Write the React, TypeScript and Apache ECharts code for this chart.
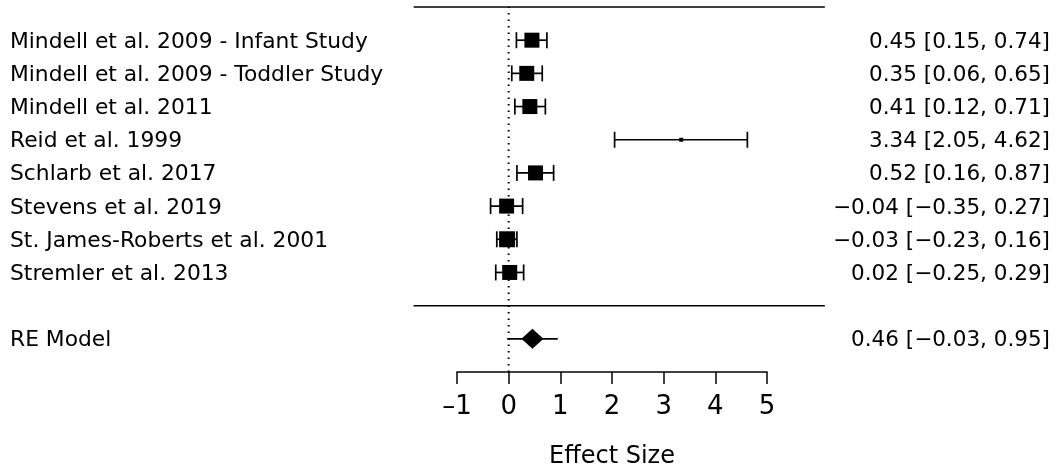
import React, { useEffect, useRef } from "react";
import * as echarts from "echarts";

// ---- data ----
const studies = [
  "Mindell et al. 2009 - Infant Study",
  "Mindell et al. 2009 - Toddler Study",
  "Mindell et al. 2011",
  "Reid et al. 1999",
  "Schlarb et al. 2017",
  "Stevens et al. 2019",
  "St. James-Roberts et al. 2001",
  "Stremler et al. 2013",
];
const estimates = [0.45, 0.35, 0.41, 3.34, 0.52, -0.04, -0.03, 0.02];
const lowers = [0.15, 0.06, 0.12, 2.05, 0.16, -0.35, -0.23, -0.25];
const uppers = [0.74, 0.65, 0.71, 4.62, 0.87, 0.27, 0.16, 0.29];
const squareSizes = [15, 15, 15, 4, 15, 15, 16, 15];

const summaryLabel = "RE Model";
const summaryEst = 0.46;
const summaryLower = -0.03;
const summaryUpper = 0.95;

const xTicks = [-1, 0, 1, 2, 3, 4, 5];
const xLim = [-1.84, 6.12];
const axisTitle = "Effect Size";

const FONT = "DejaVu Sans";
const fmt = (v: number) => v.toFixed(2).replace("-", "\u2212");
const fmtTick = (v: number) => String(v).replace("-", "\u2013");

export default function App() {
  const ref = useRef<HTMLDivElement>(null);

  useEffect(() => {
    if (!ref.current) return;
    const chart = echarts.init(ref.current, undefined, { renderer: "svg" });
    const k = studies.length;
    const rows = studies.map((_, i) => k - i);
    const summaryRow = -1;

    const leftLabel = (v: number) => {
      if (v >= 1 && v <= k) return studies[k - v];
      if (v === summaryRow) return summaryLabel;
      return "";
    };
    const rightLabel = (v: number) => {
      if (v >= 1 && v <= k) {
        const i = k - v;
        return `${fmt(estimates[i])} [${fmt(lowers[i])}, ${fmt(uppers[i])}]`;
      }
      if (v === summaryRow)
        return `${fmt(summaryEst)} [${fmt(summaryLower)}, ${fmt(summaryUpper)}]`;
      return "";
    };

    const blackLine = { color: "#000", width: 1.5 };

    chart.setOption({
      animation: false,
      grid: { left: 457, right: 290, top: 7, bottom: 99 },
      xAxis: {
        type: "value",
        min: xTicks[0],
        max: xTicks[xTicks.length - 1],
        interval: 1,
        position: "bottom",
        axisLine: { show: true, onZero: false, lineStyle: blackLine },
        axisTick: { show: true, length: 12, lineStyle: blackLine },
        axisLabel: {
          fontSize: 26,
          color: "#000",
          margin: 20,
          fontFamily: FONT,
          formatter: (v: number) => fmtTick(v),
        },
        splitLine: { show: false },
        name: axisTitle,
        nameLocation: "middle",
        nameGap: 71,
        nameTextStyle: { fontSize: 24, color: "#000", fontFamily: FONT },
      },
      yAxis: [
        {
          type: "value",
          min: -2,
          max: k + 1,
          interval: 1,
          position: "left",
          axisLine: { show: false },
          axisTick: { show: false },
          splitLine: { show: false },
          axisLabel: {
            align: "left",
            margin: 447,
            fontSize: 21.8,
            color: "#000",
            fontFamily: FONT,
            formatter: leftLabel,
          },
        },
        {
          type: "value",
          min: -2,
          max: k + 1,
          interval: 1,
          position: "right",
          axisLine: { show: false },
          axisTick: { show: false },
          splitLine: { show: false },
          axisLabel: {
            align: "right",
            margin: 283,
            fontSize: 21.5,
            color: "#000",
            fontFamily: FONT,
            formatter: rightLabel,
          },
        },
      ],
      series: [
        {
          // horizontal rules at the top and above the summary row
          type: "custom",
          clip: false,
          silent: true,
          encode: { x: [0, 1], y: 2 },
          data: [
            [xLim[0], xLim[1], k + 1],
            [xLim[0], xLim[1], 0],
          ],
          renderItem: (params: any, api: any) => {
            const a = api.coord([api.value(0), api.value(2)]);
            const b = api.coord([api.value(1), api.value(2)]);
            return {
              type: "line",
              shape: { x1: a[0], y1: a[1], x2: b[0], y2: b[1] },
              style: { stroke: "#000", lineWidth: 1.5 },
            };
          },
        },
        {
          type: "line",
          clip: false,
          symbol: "none",
          silent: true,
          lineStyle: { color: "#000", width: 2, type: [1.5, 5] },
          data: [
            [0, -2],
            [0, k + 1],
          ],
        },
        {
          type: "custom",
          clip: false,
          encode: { x: [0, 1], y: 2 },
          data: rows.map((r, i) => [lowers[i], uppers[i], r]),
          renderItem: (params: any, api: any) => {
            const lo = api.coord([api.value(0), api.value(2)]);
            const hi = api.coord([api.value(1), api.value(2)]);
            const h = 8;
            const st = { stroke: "#000", lineWidth: 1.7 };
            return {
              type: "group",
              children: [
                { type: "line", shape: { x1: lo[0], y1: lo[1], x2: hi[0], y2: hi[1] }, style: st },
                { type: "line", shape: { x1: lo[0], y1: lo[1] - h, x2: lo[0], y2: lo[1] + h }, style: st },
                { type: "line", shape: { x1: hi[0], y1: hi[1] - h, x2: hi[0], y2: hi[1] + h }, style: st },
              ],
            };
          },
        },
        {
          type: "scatter",
          symbol: "rect",
          itemStyle: { color: "#000", opacity: 1 },
          data: rows.map((r, i) => ({
            value: [estimates[i], r],
            symbolSize: squareSizes[i],
          })),
        },
        {
          type: "line",
          clip: false,
          symbol: "none",
          lineStyle: { color: "#000", width: 1.7 },
          data: [
            [summaryLower, summaryRow],
            [summaryUpper, summaryRow],
          ],
        },
        {
          type: "scatter",
          symbol: "diamond",
          symbolSize: [22, 20],
          itemStyle: { color: "#000", opacity: 1 },
          data: [[summaryEst, summaryRow]],
        },
      ],
    });
    return () => chart.dispose();
  }, []);

  return (
    <div
      ref={ref}
      style={{ position: "fixed", left: 0, top: 0, width: 1057, height: 472 }}
    />
  );
}
